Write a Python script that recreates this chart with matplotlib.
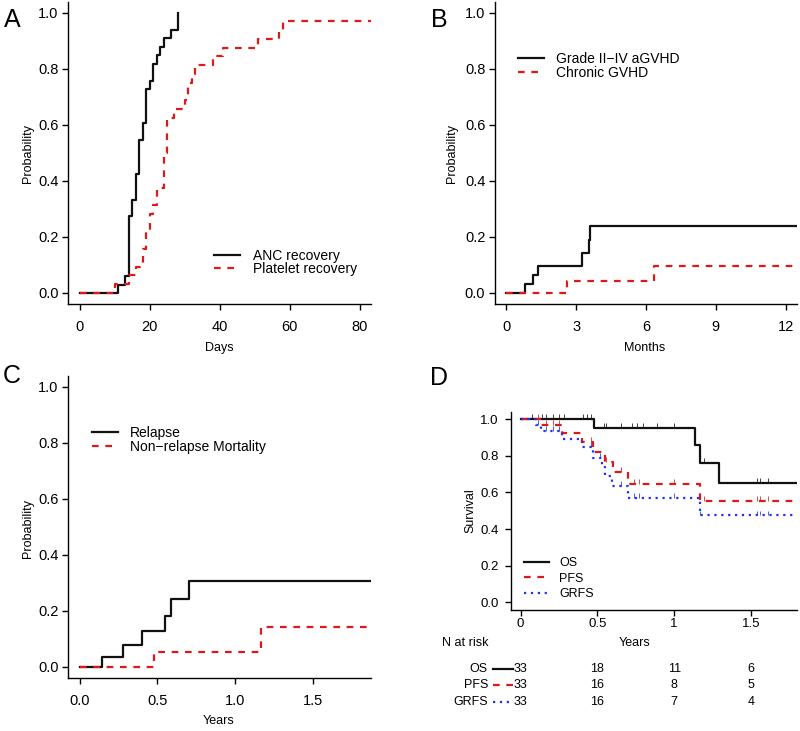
import numpy as np
import matplotlib
matplotlib.use('Agg')
import matplotlib.pyplot as plt
from matplotlib.transforms import Affine2D, blended_transform_factory
from matplotlib.lines import Line2D

plt.rcParams['font.family'] = ['Liberation Sans', 'DejaVu Sans']

# ---------------- data ----------------
# Panel A: engraftment (days)
anc_days = [0, 11, 13, 14, 15, 16, 17, 18, 19, 20, 21, 22, 23, 24, 26, 28]
anc_prob = [0, 0.030, 0.061, 0.273, 0.333, 0.424, 0.545, 0.606, 0.727, 0.758,
            0.818, 0.848, 0.879, 0.909, 0.939, 1.0]
plt_days = [0, 10, 14, 16, 18, 19, 20, 21, 22, 24, 25, 27, 30, 31, 32, 33,
            38, 41, 51, 57, 58, 90]
plt_prob = [0, 0.031, 0.063, 0.094, 0.156, 0.219, 0.281, 0.313, 0.375, 0.5,
            0.625, 0.656, 0.688, 0.75, 0.781, 0.813, 0.844, 0.875, 0.906,
            0.938, 0.969, 0.969]

# Panel B: GVHD (months)
agvhd_months = [0, 0.8, 1.15, 1.38, 3.26, 3.54, 3.61, 14]
agvhd_prob = [0, 0.031, 0.064, 0.097, 0.143, 0.19, 0.238, 0.238]
cgvhd_months = [0, 2.62, 6.34, 14]
cgvhd_prob = [0, 0.043, 0.098, 0.098]

# Panel C: relapse / NRM (years)
rel_years = [0, 0.147, 0.277, 0.401, 0.551, 0.589, 0.706, 2.0]
rel_prob = [0, 0.036, 0.078, 0.129, 0.182, 0.241, 0.307, 0.307]
nrm_years = [0, 0.48, 1.165, 2.0]
nrm_prob = [0, 0.052, 0.142, 0.142]

# Panel D: survival (years)
os_years = [0, 0.48, 1.137, 1.17, 1.289, 2.0]
os_surv = [1.0, 0.95, 0.857, 0.759, 0.651, 0.651]
pfs_years = [0, 0.13, 0.27, 0.398, 0.474, 0.55, 0.60, 0.70, 1.17, 2.0]
pfs_surv = [1.0, 0.969, 0.922, 0.873, 0.822, 0.768, 0.71, 0.645, 0.553, 0.553]
grfs_years = [0, 0.10, 0.13, 0.267, 0.398, 0.474, 0.53, 0.55, 0.593, 0.70, 1.17, 2.0]
grfs_surv = [1.0, 0.969, 0.935, 0.891, 0.846, 0.79, 0.74, 0.692, 0.634, 0.569,
             0.474, 0.474]
os_cens = [0.072, 0.137, 0.165, 0.213, 0.252, 0.282, 0.404, 0.434, 0.459, 0.543,
           0.556, 0.654, 0.724, 0.757, 0.796, 0.891, 0.996, 1.196, 1.539, 1.557, 1.611]
pfs_cens = [0.11, 0.165, 0.209, 0.252, 0.459, 0.556, 0.654, 0.735, 0.774, 0.996,
            1.196, 1.539, 1.557, 1.611]
grfs_cens = [0.11, 0.165, 0.209, 0.252, 0.459, 0.52, 0.654, 0.735, 0.774, 0.996,
             1.17, 1.539, 1.557, 1.611]
risk_times = [0, 0.5, 1, 1.5]
risk_os = [33, 18, 11, 6]
risk_pfs = [33, 16, 8, 5]
risk_grfs = [33, 16, 7, 4]

# ---------------- styles ----------------
RED = '#dd1a1a'
BLUE = '#2233ee'
BLACK = '#111111'
sty_solid = dict(color=BLACK, lw=1.6, linestyle='-')
sty_dash = dict(color=RED, lw=1.6, linestyle=(0, (3.0, 3.0)))
sty_dot = dict(color=BLUE, lw=1.6, linestyle=(0, (1, 2.1)))

W, H = 800, 731
fig = plt.figure(figsize=(W / 100, H / 100), dpi=100)
px = Affine2D().scale(1 / W, -1 / H).translate(0, 1) + fig.transFigure


def make_ax(l, t, r, b, xpad=7.5, ypad=3, ls=10.5):
    ax = fig.add_axes([l / W, 1 - b / H, (r - l) / W, (b - t) / H])
    for s in ['top', 'right']:
        ax.spines[s].set_visible(False)
    for s in ['left', 'bottom']:
        ax.spines[s].set_linewidth(1.0)
    ax.tick_params(direction='out', length=4, width=1.0, labelsize=ls)
    ax.tick_params(axis='x', pad=xpad)
    ax.tick_params(axis='y', pad=ypad)
    ax.set_ylim(-0.04, 1.04)
    ax.set_yticks([0, 0.2, 0.4, 0.6, 0.8, 1.0])
    ax.set_yticklabels(['0.0', '0.2', '0.4', '0.6', '0.8', '1.0'])
    return ax


def legend(items, x0, x1, xt, ys, fs):
    for (label, sty), y in zip(items, ys):
        fig.add_artist(Line2D([x0, x1], [y, y], transform=px, **sty))
        fig.text(xt, y + 0.36 * fs * 1.389, label, transform=px, ha='left',
                 va='baseline', fontsize=fs)


def label(x, y, s, fs=9, rot=0, ha='center'):
    fig.text(x, y, s, transform=px, ha=ha, va='center', fontsize=fs, rotation=rot)


# ---------------- Panel A ----------------
axA = make_ax(68.3, 1.5, 371, 304.2)
axA.step(anc_days, anc_prob, where='post', **sty_solid)
axA.step(plt_days, plt_prob, where='post', **sty_dash)
axA.set_xlim(-3.2, 83.2)
axA.set_xticks([0, 20, 40, 60, 80])
label(219, 347.7, 'Days')
label(27.7, 153.3, 'Probability', rot=90)
legend([('ANC recovery', sty_solid), ('Platelet recovery', sty_dash)],
       214.3, 240, 252.7, [255, 268.3], 10)

# ---------------- Panel B ----------------
axB = make_ax(495, 1.5, 797, 304.2)
axB.step(agvhd_months, agvhd_prob, where='post', **sty_solid)
axB.step(cgvhd_months, cgvhd_prob, where='post', **sty_dash)
axB.set_xlim(-0.48, 12.48)
axB.set_xticks([0, 3, 6, 9, 12])
label(645, 347.7, 'Months')
label(452.3, 153.3, 'Probability', rot=90)
legend([('Grade II\u2212IV aGVHD', sty_solid), ('Chronic GVHD', sty_dash)],
       517.7, 544.3, 556, [57.7, 71.7], 10)

# ---------------- Panel C ----------------
axC = make_ax(68.3, 375.5, 371, 678.2)
axC.step(rel_years, rel_prob, where='post', **sty_solid)
axC.step(nrm_years, nrm_prob, where='post', **sty_dash)
axC.set_xlim(-0.072, 1.872)
axC.set_xticks([0, 0.5, 1.0, 1.5])
axC.set_xticklabels(['0.0', '0.5', '1.0', '1.5'])
label(218.3, 721, 'Years')
label(28, 528.3, 'Probability', rot=90)
legend([('Relapse', sty_solid), ('Non\u2212relapse Mortality', sty_dash)],
       91.7, 117.7, 130, [431.7, 446], 10)

# ---------------- Panel D ----------------
axD = make_ax(511, 411.7, 797, 609.7, xpad=2, ypad=5, ls=9.5)
for t, s, c, sty in [(os_years, os_surv, os_cens, sty_solid),
                     (pfs_years, pfs_surv, pfs_cens, sty_dash),
                     (grfs_years, grfs_surv, grfs_cens, sty_dot)]:
    axD.step(t, s, where='post', **sty)
    idx = np.searchsorted(t, c, side='right') - 1
    yv = np.asarray(s)[idx]
    axD.vlines(c, yv, yv + 0.027, color=sty['color'], lw=0.7, alpha=0.8)
axD.set_xlim(-0.063, 1.80)
axD.set_xticks(risk_times)
axD.set_xticklabels(['0', '0.5', '1', '1.5'])
label(470, 510.7, 'Survival', rot=90)
label(635, 643, 'Years')
label(441.7, 643, 'N at risk', ha='left')
legend([('OS', sty_solid), ('PFS', sty_dash), ('GRFS', sty_dot)],
       524.3, 549, 559.3, [561.7, 577.3, 592.7], 9)

# risk table
bt = blended_transform_factory(axD.transData, px)
rows = [('OS', sty_solid, risk_os, 669), ('PFS', sty_dash, risk_pfs, 685),
        ('GRFS', sty_dot, risk_grfs, 702)]
for name, sty, counts, y in rows:
    fig.text(488, y, name, transform=px, ha='right', va='center', fontsize=9)
    fig.add_artist(Line2D([492.7, 512.7], [y, y], transform=px, **sty))
    for tt, n in zip(risk_times, counts):
        fig.text(tt, y, str(n), transform=bt, ha='center', va='center', fontsize=9)

# panel letters
for s, x, y in [('A', 12.5, 26.7), ('B', 439, 27), ('C', 11.7, 383.3), ('D', 439, 385)]:
    fig.text(x, y, s, transform=px, ha='center', va='baseline', fontsize=18)

fig.savefig('out.png', dpi=100)
